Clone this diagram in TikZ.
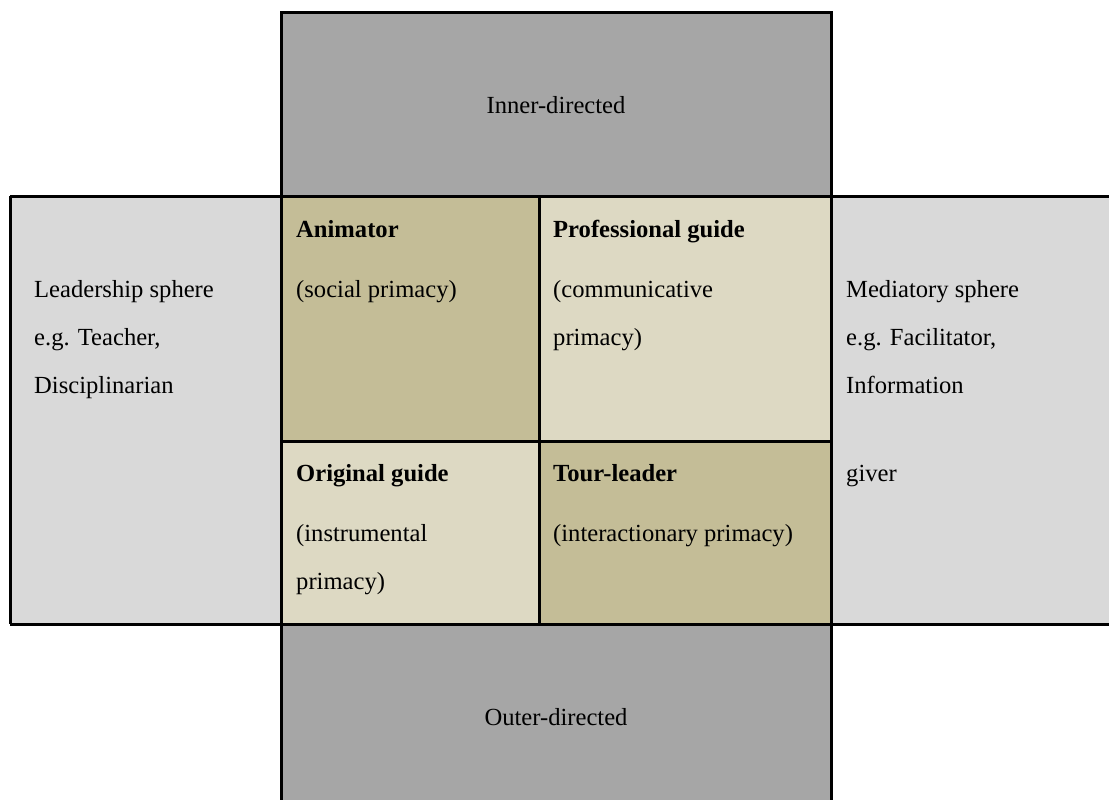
\documentclass[tikz,border=0pt]{standalone}
\usepackage{fontspec}
\setmainfont{Liberation Serif}
\definecolor{darkgrey}{HTML}{A6A6A6}
\definecolor{lightgrey}{HTML}{D9D9D9}
\definecolor{khakidark}{HTML}{C4BD97}
\definecolor{khakilight}{HTML}{DDD9C3}
\begin{document}
\begin{tikzpicture}[x=1pt,y=-1pt,
  rule/.style={line width=3pt,black},
  txt/.style={anchor=base west,inner sep=0pt,font=\fontsize{24.6}{30}\selectfont},
  ttl/.style={txt,font=\fontsize{24.6}{30}\selectfont\bfseries},
  ctxt/.style={inner sep=0pt,font=\fontsize{24.6}{30}\selectfont}]
\useasboundingbox (0,0) rectangle (1109,800);
% fills
\fill[darkgrey] (281,13) rectangle (831,196);
\fill[darkgrey] (281,624) rectangle (831,800);
\fill[lightgrey] (10,196) rectangle (281,624);
\fill[lightgrey] (831,196) rectangle (1109,624);
\fill[khakidark] (281,196) rectangle (539,441);
\fill[khakilight] (539,196) rectangle (831,441);
\fill[khakilight] (281,441) rectangle (539,624);
\fill[khakidark] (539,441) rectangle (831,624);
% rules
\draw[rule] (281,196) -- (281,13) -- (831,13) -- (831,196);
\draw[rule] (10,196) -- (1109,196);
\draw[rule] (10,624) -- (1109,624);
\draw[rule] (10,196) -- (10,624);
\draw[rule] (281,196) -- (281,800);
\draw[rule] (831,196) -- (831,800);
\draw[rule] (539,196) -- (539,624);
\draw[rule] (281,441) -- (831,441);
% top / bottom
\node[ctxt] (inner) at (556,105) {Inner-directed};
\node[ctxt] (outer) at (556,717) {Outer-directed};
% left
\node[txt] (l1) at (34,297) {Leadership sphere};
\node[txt] (l2) at (34,345) {e.g. Teacher,};
\node[txt] (l3) at (34,393) {Disciplinarian};
% right
\node[txt] (r1) at (846,297) {Mediatory sphere};
\node[txt] (r2) at (846,345) {e.g. Facilitator,};
\node[txt] (r3) at (846,393) {Information};
\node[txt] (r4) at (846,481) {giver};
% cells
\node[ttl] (a1) at (296,237) {Animator};
\node[txt] (a2) at (296,297) {(social primacy)};
\node[ttl] (p1) at (553,237) {Professional guide};
\node[txt] (p2) at (553,297) {(communicative};
\node[txt] (p3) at (553,345) {primacy)};
\node[ttl] (o1) at (296,481) {Original guide};
\node[txt] (o2) at (296,541) {(instrumental};
\node[txt] (o3) at (296,589) {primacy)};
\node[ttl] (t1) at (553,481) {Tour-leader};
\node[txt] (t2) at (553,541) {(interactionary primacy)};
\end{tikzpicture}
\end{document}
